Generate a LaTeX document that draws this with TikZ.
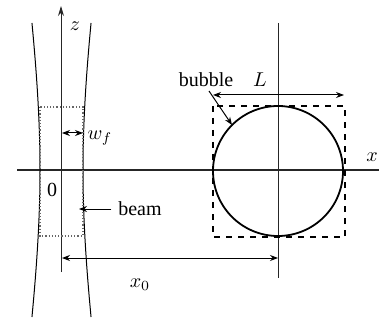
\documentclass[tikz,border=0pt]{standalone}
\usepackage{fontspec}
\setmainfont{Liberation Serif}
\usetikzlibrary{arrows.meta,calc}
\tikzset{
    dimarrow/.style={{Stealth[length=4pt,width=3pt]}-{Stealth[length=4pt,width=3pt]}, line width=0.5pt},
    ptrarrow/.style={-{Stealth[length=4pt,width=3pt]}, line width=0.5pt},
    axisline/.style={line width=0.5pt, black!85}
}
\begin{document}
\begin{tikzpicture}[x=0.5pt, y=-0.5pt]
    \useasboundingbox (0,0) rectangle (379,320);
    % Axes
    \draw[axisline] (17,170) -- (379,170);
    \node (xlab) at (372,157) {$x$};
    \draw[axisline, -{Stealth[length=5pt,width=3pt]}] (61,272) -- (61,6);
    \node (zlab) at (75,26) {$z$};
    \node (zero) at (52,190) {0};

    % Beam
    \draw[line width=0.5pt] plot[domain=-147:147, samples=60, smooth] ({61.5-21.5*sqrt(1+(\x/156)*(\x/156))}, {170+\x});
    \draw[line width=0.5pt] plot[domain=-147:147, samples=60, smooth] ({61.5+21.5*sqrt(1+(\x/156)*(\x/156))}, {170+\x});
    \draw[densely dotted, line width=0.6pt, black!60] (40,107) rectangle (83,236);
    \coordinate (wa) at (62,133);
    \coordinate (wb) at (83,133);
    \draw[dimarrow] (wa) -- (wb);
    \node (wlab) at (100,138) {$w_f$};
    \node (beam) at (140,209) {beam};
    \coordinate (beamtip) at (79,209);
    \draw[ptrarrow] (beam.west) -- (beamtip);

    % Bubble
    \coordinate (c) at (278,171);
    \draw[axisline] (278,23) -- (278,278);
    \draw[line width=0.9pt] (c) circle (65);
    \draw[dashed, line width=0.6pt] (213,106) rectangle (345,237);
    \coordinate (la) at (213,95);
    \coordinate (lb) at (344,95);
    \draw[dimarrow] (la) -- (lb);
    \node (llab) at (260,80) {$L$};
    \node (bubble) at (206,80) {bubble};
    \coordinate (btail) at (209,91);
    \draw[ptrarrow] (btail) -- ($(c)+(225:65)$);

    % Offset x_0
    \coordinate (xa) at (62,258);
    \coordinate (xb) at (278,258);
    \draw[dimarrow] (xa) -- (xb);
    \node (x0lab) at (140,285) {$x_0$};
\end{tikzpicture}
\end{document}
